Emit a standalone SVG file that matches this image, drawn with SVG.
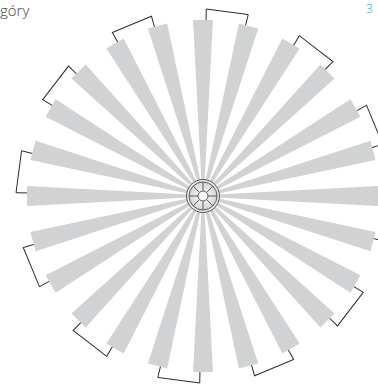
<svg xmlns="http://www.w3.org/2000/svg" xmlns:xlink="http://www.w3.org/1999/xlink" width="378" height="386" viewBox="0 0 378 386">
<style>
.w{fill:#d1d2d4}
.br{fill:none;stroke:#2b2b2b;stroke-width:1}
.t{font-family:"Open Sans","Segoe UI","DejaVu Sans",sans-serif;font-weight:300}
.e{stroke:#5a5a5a;stroke-width:1}
</style>
<defs>
<polygon id="ray" class="w" points="-10,-176 10,-176 0.8,0 -0.8,0"/>
<path id="brk" class="br" d="M3.07,-175.97 L3.26,-186.97 L45.24,-181.45 L42.58,-170.77"/>
<radialGradient id="hub" cx="0.5" cy="0.5" r="0.5">
<stop offset="0" stop-color="#ffffff"/>
<stop offset="1" stop-color="#d4d4d4"/>
</radialGradient>
</defs>
<g id="rays" transform="translate(203,196)">
<use xlink:href="#ray"/>
<use xlink:href="#ray" transform="rotate(15)"/>
<use xlink:href="#ray" transform="rotate(30)"/>
<use xlink:href="#ray" transform="rotate(45)"/>
<use xlink:href="#ray" transform="rotate(60)"/>
<use xlink:href="#ray" transform="rotate(75)"/>
<use xlink:href="#ray" transform="rotate(90)"/>
<use xlink:href="#ray" transform="rotate(105)"/>
<use xlink:href="#ray" transform="rotate(120)"/>
<use xlink:href="#ray" transform="rotate(135)"/>
<use xlink:href="#ray" transform="rotate(150)"/>
<use xlink:href="#ray" transform="rotate(165)"/>
<use xlink:href="#ray" transform="rotate(180)"/>
<use xlink:href="#ray" transform="rotate(195)"/>
<use xlink:href="#ray" transform="rotate(210)"/>
<use xlink:href="#ray" transform="rotate(225)"/>
<use xlink:href="#ray" transform="rotate(240)"/>
<use xlink:href="#ray" transform="rotate(255)"/>
<use xlink:href="#ray" transform="rotate(270)"/>
<use xlink:href="#ray" transform="rotate(285)"/>
<use xlink:href="#ray" transform="rotate(300)"/>
<use xlink:href="#ray" transform="rotate(315)"/>
<use xlink:href="#ray" transform="rotate(330)"/>
<use xlink:href="#ray" transform="rotate(345)"/>
</g>
<g id="connectors" transform="translate(203,196)">
<use xlink:href="#brk"/>
<use xlink:href="#brk" transform="rotate(30)"/>
<use xlink:href="#brk" transform="rotate(60)"/>
<use xlink:href="#brk" transform="rotate(90)"/>
<use xlink:href="#brk" transform="rotate(120)"/>
<use xlink:href="#brk" transform="rotate(150)"/>
<use xlink:href="#brk" transform="rotate(180)"/>
<use xlink:href="#brk" transform="rotate(210)"/>
<use xlink:href="#brk" transform="rotate(240)"/>
<use xlink:href="#brk" transform="rotate(270)"/>
<use xlink:href="#brk" transform="rotate(300)"/>
<use xlink:href="#brk" transform="rotate(330)"/>
</g>
<g id="hub" transform="translate(203,196)">
<circle r="16.5" fill="#e6e6e6" class="e"/>
<circle r="14" fill="url(#hub)" class="e"/>
<g class="e">
<line x1="0" y1="-5" x2="0" y2="-14"/>
<line x1="0" y1="5" x2="0" y2="14"/>
<line x1="-5" y1="0" x2="-14" y2="0"/>
<line x1="5" y1="0" x2="14" y2="0"/>
<line x1="3.54" y1="-3.54" x2="9.9" y2="-9.9"/>
<line x1="-3.54" y1="-3.54" x2="-9.9" y2="-9.9"/>
<line x1="3.54" y1="3.54" x2="9.9" y2="9.9"/>
<line x1="-3.54" y1="3.54" x2="-9.9" y2="9.9"/>
</g>
<circle r="5" fill="#f7f7f7" class="e"/>
</g>
<g id="labels">
<text class="t" x="0" y="16" font-size="15" fill="#444444">góry</text>
<text class="t" x="366" y="13" font-size="12" fill="#29a8e0">3</text>
</g>
</svg>
